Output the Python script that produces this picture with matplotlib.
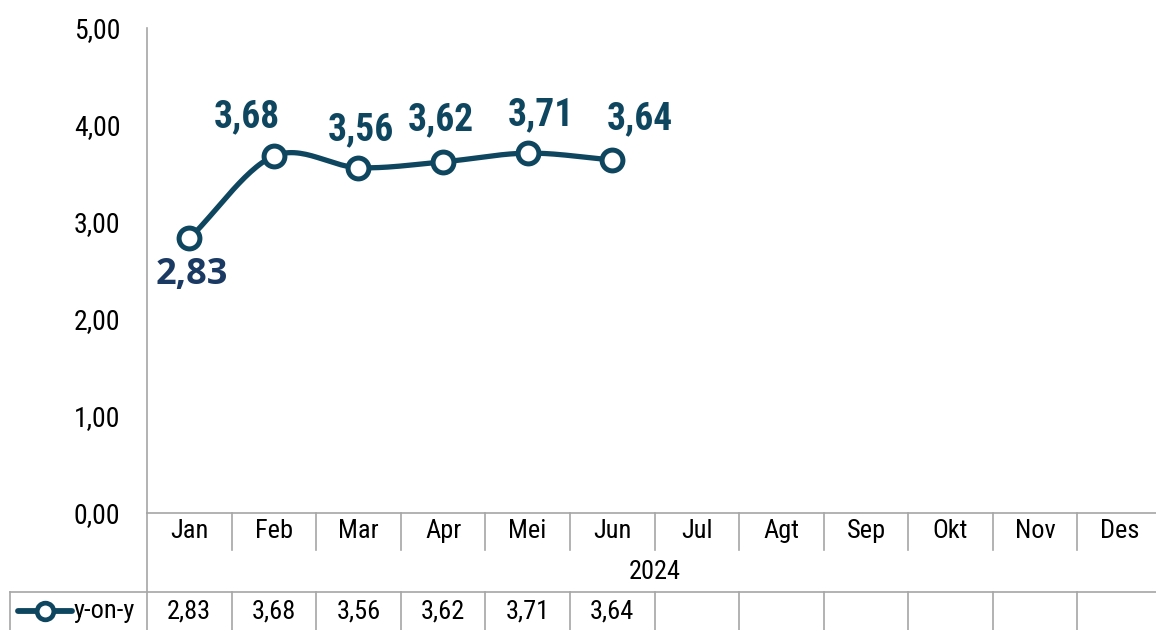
import numpy as np
import matplotlib
matplotlib.use('Agg')
import matplotlib.pyplot as plt

# ---- data
months = ['Jan', 'Feb', 'Mar', 'Apr', 'Mei', 'Jun', 'Jul', 'Agt', 'Sep', 'Okt', 'Nov', 'Des']
yoy = [2.83, 3.68, 3.56, 3.62, 3.71, 3.64]
year_label = '2024'
series_name = 'y-on-y'
yticks = [0, 1, 2, 3, 4, 5]

LINE = '#0E4660'
GRID = '#A6A6A6'
NARROW = ['Roboto Condensed', 'Liberation Sans', 'DejaVu Sans']


def fmt(v):
    return f'{v:.2f}'.replace('.', ',')


def smooth(xs, ys, n=30):
    # Catmull-Rom, approximates Excel "smoothed line"
    xs = np.asarray(xs, float); ys = np.asarray(ys, float)
    px = np.concatenate([[2*xs[0]-xs[1]], xs, [2*xs[-1]-xs[-2]]])
    py = np.concatenate([[2*ys[0]-ys[1]], ys, [2*ys[-1]-ys[-2]]])
    ox, oy = [], []
    t = np.linspace(0, 1, n)
    for i in range(1, len(px)-2):
        for p, o in ((px, ox), (py, oy)):
            p0, p1, p2, p3 = p[i-1], p[i], p[i+1], p[i+2]
            o.extend(0.5*((2*p1) + (-p0+p2)*t + (2*p0-5*p1+4*p2-p3)*t**2
                          + (-p0+3*p1-3*p2+p3)*t**3))
    return ox, oy


def main():
    W, H = 1156, 630
    fig = plt.figure(figsize=(W/100, H/100), dpi=100)
    # axes in pixels: x 147..1162, y 28..513
    ax = fig.add_axes([147/W, (H-513)/H, 1015/W, 485/H])
    ax.set_xlim(-0.5, 11.5)
    ax.set_ylim(0, 5)
    for s in ['top', 'right', 'bottom']:
        ax.spines[s].set_visible(False)
    ax.spines['left'].set_color(GRID)
    ax.spines['left'].set_linewidth(1.2)
    ax.set_xticks([])
    ax.set_yticks(yticks)
    ax.set_yticklabels([fmt(v) for v in yticks], fontsize=20, family=NARROW)
    ax.tick_params(axis='y', length=0, pad=19)

    x = np.arange(len(yoy))
    sx, sy = smooth(x, yoy)
    ax.plot(sx, sy, color=LINE, lw=3.8, solid_capstyle='round', zorder=3)
    ax.plot(x, yoy, ls='none', marker='o', ms=15, mfc='white', mec=LINE, mew=3.6, zorder=4)

    # data labels (pixel offsets)
    offs = [(2, -37), (-27, 39), (2, 38), (-2, 42), (13, 38), (28, 41)]
    for i, (v, (dx, dy)) in enumerate(zip(yoy, offs)):
        if i == 0:
            kw = dict(family=['Open Sans', 'DejaVu Sans'], color='#1B3A63', fontsize=26)
        else:
            kw = dict(family=NARROW, color=LINE, fontsize=27)
        ax.annotate(fmt(v), (i, v), xytext=(dx*0.72, dy*0.72), textcoords='offset points',
                    ha='center', va='center', fontweight='bold', zorder=5, **kw)

    # ---- table under the axis (pixel geometry converted to data units)
    ppu = 485/5.0          # px per y unit
    cw = 1015/12.0         # px per category
    yv = lambda py: (513-py)/ppu
    xv = lambda px: (px-147)/cw - 0.5
    lk = dict(color=GRID, lw=1.2, clip_on=False, zorder=2)
    n = len(months)
    ax.plot([-0.5, 11.5], [0, 0], **lk)
    ax.plot([-0.5, -0.5], [0, yv(640)], **lk)
    for k in range(1, n+1):
        b = k - 0.5
        ax.plot([b, b], [0, yv(550)], **lk)
        ax.plot([b, b], [yv(592), yv(640)], **lk)
    ax.plot([xv(10), 11.5], [yv(592), yv(592)], **lk)
    ax.plot([xv(10), xv(10)], [yv(592), yv(640)], **lk)

    tk = dict(ha='center', va='center', fontsize=19, family=NARROW, clip_on=False)
    for i, m in enumerate(months):
        ax.text(i, yv(531), m, **tk)
    ax.text(5.5, yv(572), year_label, **tk)
    for i, v in enumerate(yoy):
        ax.text(i, yv(611), fmt(v), **tk)

    # legend key in the row header
    ax.plot([xv(18), xv(72)], [yv(611), yv(611)], color=LINE, lw=4.2, clip_on=False,
            solid_capstyle='round', zorder=3)
    ax.plot([xv(45)], [yv(611)], marker='o', ms=12, mfc='white', mec=LINE, mew=3.4,
            clip_on=False, zorder=4)
    ax.text(xv(74), yv(611), series_name, ha='left', va='center', fontsize=19,
            family=NARROW, clip_on=False)

    fig.savefig('out.png', dpi=100)


main()
